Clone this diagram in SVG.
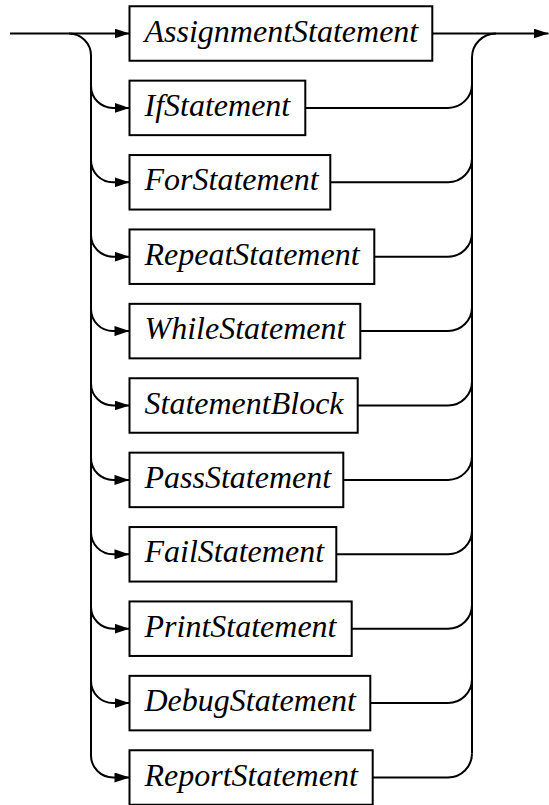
<svg xmlns="http://www.w3.org/2000/svg" width="549" height="805" viewBox="0 0 549 805">
<style>
.box { fill: #fff; stroke: #000; stroke-width: 2; }
.ln { fill: none; stroke: #000; stroke-width: 2; }
</style>
<defs>
<marker id="ah" viewBox="0 0 15 10" refX="15" refY="5" markerWidth="15" markerHeight="10" markerUnits="userSpaceOnUse" orient="auto">
<path d="M0,0 L15,5 L0,10 z" fill="#000"/>
</marker>
</defs>
<g id="connectors">
<path class="ln" d="M10,33.5 L129.5,33.5" marker-end="url(#ah)"/>
<path class="ln" d="M432.3,33.5 L548.5,33.5" marker-end="url(#ah)"/>
<path class="ln" d="M69,33.5 A22,22 0 0 1 91,55.5 L91,755.5 A22,22 0 0 0 113,777.5 L129.5,777.5" marker-end="url(#ah)"/>
<path class="ln" d="M472,753.5 L472,57.5 A24,24 0 0 1 496,33.5"/>
<path class="ln" d="M372.7,777.5 L448,777.5 A24,24 0 0 0 472,753.5"/>
<path class="ln" d="M91,85.9 A22,22 0 0 0 113,107.9 L129.5,107.9" marker-end="url(#ah)"/>
<path class="ln" d="M91,160.3 A22,22 0 0 0 113,182.3 L129.5,182.3" marker-end="url(#ah)"/>
<path class="ln" d="M91,234.7 A22,22 0 0 0 113,256.7 L129.5,256.7" marker-end="url(#ah)"/>
<path class="ln" d="M91,309.1 A22,22 0 0 0 113,331.1 L129.5,331.1" marker-end="url(#ah)"/>
<path class="ln" d="M91,383.5 A22,22 0 0 0 113,405.5 L129.5,405.5" marker-end="url(#ah)"/>
<path class="ln" d="M91,457.9 A22,22 0 0 0 113,479.9 L129.5,479.9" marker-end="url(#ah)"/>
<path class="ln" d="M91,532.3 A22,22 0 0 0 113,554.3 L129.5,554.3" marker-end="url(#ah)"/>
<path class="ln" d="M91,606.7 A22,22 0 0 0 113,628.7 L129.5,628.7" marker-end="url(#ah)"/>
<path class="ln" d="M91,681.1 A22,22 0 0 0 113,703.1 L129.5,703.1" marker-end="url(#ah)"/>
<path class="ln" d="M305.3,107.9 L448,107.9 A24,24 0 0 0 472,83.9"/>
<path class="ln" d="M330.3,182.3 L448,182.3 A24,24 0 0 0 472,158.3"/>
<path class="ln" d="M374.3,256.7 L448,256.7 A24,24 0 0 0 472,232.7"/>
<path class="ln" d="M360.3,331.1 L448,331.1 A24,24 0 0 0 472,307.1"/>
<path class="ln" d="M357.7,405.5 L448,405.5 A24,24 0 0 0 472,381.5"/>
<path class="ln" d="M343.3,479.9 L448,479.9 A24,24 0 0 0 472,455.9"/>
<path class="ln" d="M336.3,554.3 L448,554.3 A24,24 0 0 0 472,530.3"/>
<path class="ln" d="M351.7,628.7 L448,628.7 A24,24 0 0 0 472,604.7"/>
<path class="ln" d="M370.3,703.1 L448,703.1 A24,24 0 0 0 472,679.1"/>
</g>
<g id="nodes">
<g id="n0"><rect class="box" x="129.5" y="6.25" width="302.8" height="54.5"/><text x="144.5" y="41.5" style="font-family:'Liberation Serif',serif;font-style:italic;font-size:32px">AssignmentStatement</text></g>
<g id="n1"><rect class="box" x="129.5" y="80.65" width="175.8" height="54.5"/><text x="144.5" y="115.9" style="font-family:'Liberation Serif',serif;font-style:italic;font-size:32px">IfStatement</text></g>
<g id="n2"><rect class="box" x="129.5" y="155.05" width="200.8" height="54.5"/><text x="144.5" y="190.3" style="font-family:'Liberation Serif',serif;font-style:italic;font-size:32px">ForStatement</text></g>
<g id="n3"><rect class="box" x="129.5" y="229.45" width="244.8" height="54.5"/><text x="144.5" y="264.7" style="font-family:'Liberation Serif',serif;font-style:italic;font-size:32px">RepeatStatement</text></g>
<g id="n4"><rect class="box" x="129.5" y="303.85" width="230.8" height="54.5"/><text x="144.5" y="339.1" style="font-family:'Liberation Serif',serif;font-style:italic;font-size:32px">WhileStatement</text></g>
<g id="n5"><rect class="box" x="129.5" y="378.25" width="228.2" height="54.5"/><text x="144.5" y="413.5" style="font-family:'Liberation Serif',serif;font-style:italic;font-size:32px">StatementBlock</text></g>
<g id="n6"><rect class="box" x="129.5" y="452.65" width="213.8" height="54.5"/><text x="144.5" y="487.9" style="font-family:'Liberation Serif',serif;font-style:italic;font-size:32px">PassStatement</text></g>
<g id="n7"><rect class="box" x="129.5" y="527.05" width="206.8" height="54.5"/><text x="144.5" y="562.3" style="font-family:'Liberation Serif',serif;font-style:italic;font-size:32px">FailStatement</text></g>
<g id="n8"><rect class="box" x="129.5" y="601.45" width="222.2" height="54.5"/><text x="144.5" y="636.7" style="font-family:'Liberation Serif',serif;font-style:italic;font-size:32px">PrintStatement</text></g>
<g id="n9"><rect class="box" x="129.5" y="675.85" width="240.8" height="54.5"/><text x="144.5" y="711.1" style="font-family:'Liberation Serif',serif;font-style:italic;font-size:32px">DebugStatement</text></g>
<g id="n10"><rect class="box" x="129.5" y="750.25" width="243.2" height="54.5"/><text x="144.5" y="785.5" style="font-family:'Liberation Serif',serif;font-style:italic;font-size:32px">ReportStatement</text></g>
</g>
</svg>
